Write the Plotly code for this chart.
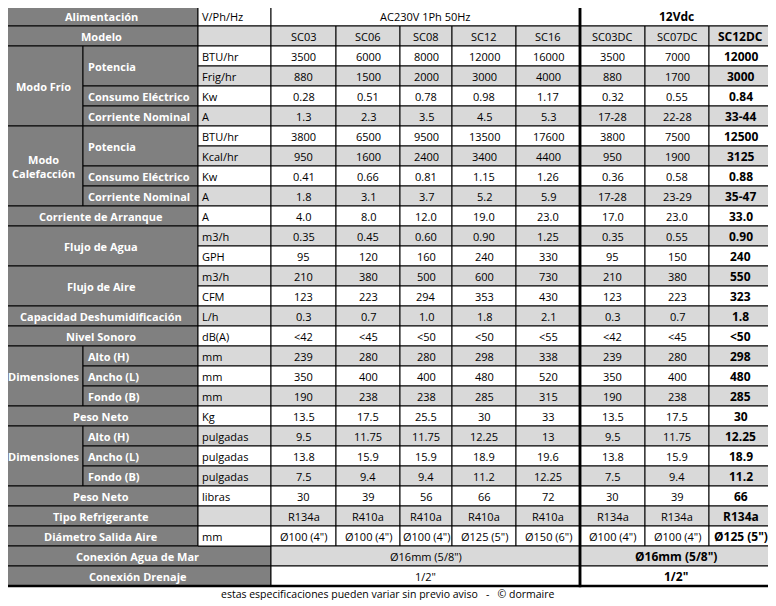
import plotly.graph_objects as go

# ---- data ----
models = ["SC03", "SC06", "SC08", "SC12", "SC16", "SC03DC", "SC07DC", "SC12DC"]

# (group label, sub label, unit, values)
rows = [
    ("Alimentación", None, "V/Ph/Hz", None),
    ("Modelo", None, "", models),
    ("Modo Frío", "Potencia", "BTU/hr", ["3500", "6000", "8000", "12000", "16000", "3500", "7000", "12000"]),
    ("Modo Frío", "Potencia", "Frig/hr", ["880", "1500", "2000", "3000", "4000", "880", "1700", "3000"]),
    ("Modo Frío", "Consumo Eléctrico", "Kw", ["0.28", "0.51", "0.78", "0.98", "1.17", "0.32", "0.55", "0.84"]),
    ("Modo Frío", "Corriente Nominal", "A", ["1.3", "2.3", "3.5", "4.5", "5.3", "17-28", "22-28", "33-44"]),
    ("Modo<br>Calefacción", "Potencia", "BTU/hr", ["3800", "6500", "9500", "13500", "17600", "3800", "7500", "12500"]),
    ("Modo<br>Calefacción", "Potencia", "Kcal/hr", ["950", "1600", "2400", "3400", "4400", "950", "1900", "3125"]),
    ("Modo<br>Calefacción", "Consumo Eléctrico", "Kw", ["0.41", "0.66", "0.81", "1.15", "1.26", "0.36", "0.58", "0.88"]),
    ("Modo<br>Calefacción", "Corriente Nominal", "A", ["1.8", "3.1", "3.7", "5.2", "5.9", "17-28", "23-29", "35-47"]),
    ("Corriente de Arranque", None, "A", ["4.0", "8.0", "12.0", "19.0", "23.0", "17.0", "23.0", "33.0"]),
    ("Flujo de Agua", None, "m3/h", ["0.35", "0.45", "0.60", "0.90", "1.25", "0.35", "0.55", "0.90"]),
    ("Flujo de Agua", None, "GPH", ["95", "120", "160", "240", "330", "95", "150", "240"]),
    ("Flujo de Aire", None, "m3/h", ["210", "380", "500", "600", "730", "210", "380", "550"]),
    ("Flujo de Aire", None, "CFM", ["123", "223", "294", "353", "430", "123", "223", "323"]),
    ("Capacidad Deshumidificación", None, "L/h", ["0.3", "0.7", "1.0", "1.8", "2.1", "0.3", "0.7", "1.8"]),
    ("Nivel Sonoro", None, "dB(A)", ["<42", "<45", "<50", "<50", "<55", "<42", "<45", "<50"]),
    ("Dimensiones", "Alto (H)", "mm", ["239", "280", "280", "298", "338", "239", "280", "298"]),
    ("Dimensiones", "Ancho (L)", "mm", ["350", "400", "400", "480", "520", "350", "400", "480"]),
    ("Dimensiones", "Fondo (B)", "mm", ["190", "238", "238", "285", "315", "190", "238", "285"]),
    ("Peso Neto", None, "Kg", ["13.5", "17.5", "25.5", "30", "33", "13.5", "17.5", "30"]),
    ("Dimensiones ", "Alto (H)", "pulgadas", ["9.5", "11.75", "11.75", "12.25", "13", "9.5", "11.75", "12.25"]),
    ("Dimensiones ", "Ancho (L)", "pulgadas", ["13.8", "15.9", "15.9", "18.9", "19.6", "13.8", "15.9", "18.9"]),
    ("Dimensiones ", "Fondo (B)", "pulgadas", ["7.5", "9.4", "9.4", "11.2", "12.25", "7.5", "9.4", "11.2"]),
    ("Peso Neto ", None, "libras", ["30", "39", "56", "66", "72", "30", "39", "66"]),
    ("Tipo Refrigerante", None, "", ["R134a", "R410a", "R410a", "R410a", "R410a", "R134a", "R134a", "R134a"]),
    ("Diámetro Salida Aire", None, "mm", ['Ø100 (4")', 'Ø100 (4")', 'Ø100 (4")', 'Ø125 (5")', 'Ø150 (6")',
                                         'Ø100 (4")', 'Ø100 (4")', 'Ø125 (5")']),
    ("Conexión Agua de Mar", None, None, None),
    ("Conexión Drenaje", None, None, None),
]
# merged value rows: (ac text, dc text)
merged = {0: ("AC230V 1Ph 50Hz", "12Vdc"), 27: ('Ø16mm (5/8")', 'Ø16mm (5/8")'), 28: ('1/2"', '1/2"')}
footer = "estas especificaciones pueden variar sin previo aviso   -   © dormaire"

# ---- geometry (page pixels) ----
col_x = [271, 336, 400, 452, 516, 580, 645, 709, 772]
x_left, x_grp, x_unit = 4, 83, 198
y0, rh = 6, 20
DARK, LIGHT, WHITE = "#808080", "#d9d9d9", "#ffffff"
FONT = "Open Sans"
PAD = 8  # page body margin

shapes, ann = [], []

def rect(x0, x1, ya, yb, fill, lw=1):
    shapes.append(dict(type="rect", xref="x", yref="y", x0=x0, x1=x1, y0=ya, y1=yb,
                       fillcolor=fill, line=dict(color="black", width=lw), layer="below"))

def text(x, y, s, color="black", bold=False, align="center", size=11):
    if bold:
        s = "<b>" + s + "</b>"
    ann.append(dict(x=x, y=y, xref="x", yref="y", text=s, showarrow=False, xanchor=align,
                    font=dict(family=FONT, size=size, color=color)))

def ry(i):
    return y0 + i * rh

# label spans
n = len(rows)
i = 0
while i < n:
    g = rows[i][0]
    j = i
    while j + 1 < n and rows[j + 1][0] == g:
        j += 1
    has_sub = rows[i][1] is not None
    right = x_grp if has_sub else (x_unit if rows[i][2] is not None else col_x[0])
    rect(x_left, right, ry(i), ry(j + 1), DARK)
    text((x_left + right) / 2, (ry(i) + ry(j + 1)) / 2, g.strip(), "white", True)
    if has_sub:
        k = i
        while k <= j:
            s = rows[k][1]
            m = k
            while m + 1 <= j and rows[m + 1][1] == s:
                m += 1
            rect(x_grp, x_unit, ry(k), ry(m + 1), DARK)
            text(x_grp + 3, (ry(k) + ry(m + 1)) / 2, s, "white", True, "left")
            k = m + 1
    i = j + 1

# units and values
for r, (g, s, unit, vals) in enumerate(rows):
    fill = WHITE if r % 2 == 0 else LIGHT
    yc = (ry(r) + ry(r + 1)) / 2
    if unit is not None:
        rect(x_unit, col_x[0], ry(r), ry(r + 1), fill)
        text(x_unit + 2, yc, unit, align="left")
    if r in merged:
        ac, dc = merged[r]
        rect(col_x[0], col_x[5], ry(r), ry(r + 1), fill)
        rect(col_x[5], col_x[8], ry(r), ry(r + 1), fill)
        text((col_x[0] + col_x[5]) / 2, yc, ac)
        text((col_x[5] + col_x[8]) / 2, yc, dc, bold=True, size=12)
        continue
    for c, v in enumerate(vals):
        rect(col_x[c], col_x[c + 1], ry(r), ry(r + 1), fill)
        text((col_x[c] + col_x[c + 1]) / 2, yc, v, bold=(c == 7), size=12 if c == 7 else 11)

# thick outlines
for x0, x1 in [(x_left, col_x[5]), (col_x[5], col_x[8])]:
    shapes.append(dict(type="rect", xref="x", yref="y", x0=x0, x1=x1, y0=ry(0), y1=ry(n),
                       line=dict(color="black", width=2.5)))

text(388, 594, footer, size=10.5)

W, H = 766, 592
fig = go.Figure(go.Scatter(x=[], y=[]))
fig.update_layout(
    width=W, height=H, margin=dict(l=0, r=0, t=0, b=0),
    paper_bgcolor="white", plot_bgcolor="white", showlegend=False,
    xaxis=dict(range=[PAD, PAD + W], visible=False, fixedrange=True),
    yaxis=dict(range=[PAD + H, PAD], visible=False, fixedrange=True),
    shapes=shapes, annotations=ann,
)
fig.write_html("out.html")
